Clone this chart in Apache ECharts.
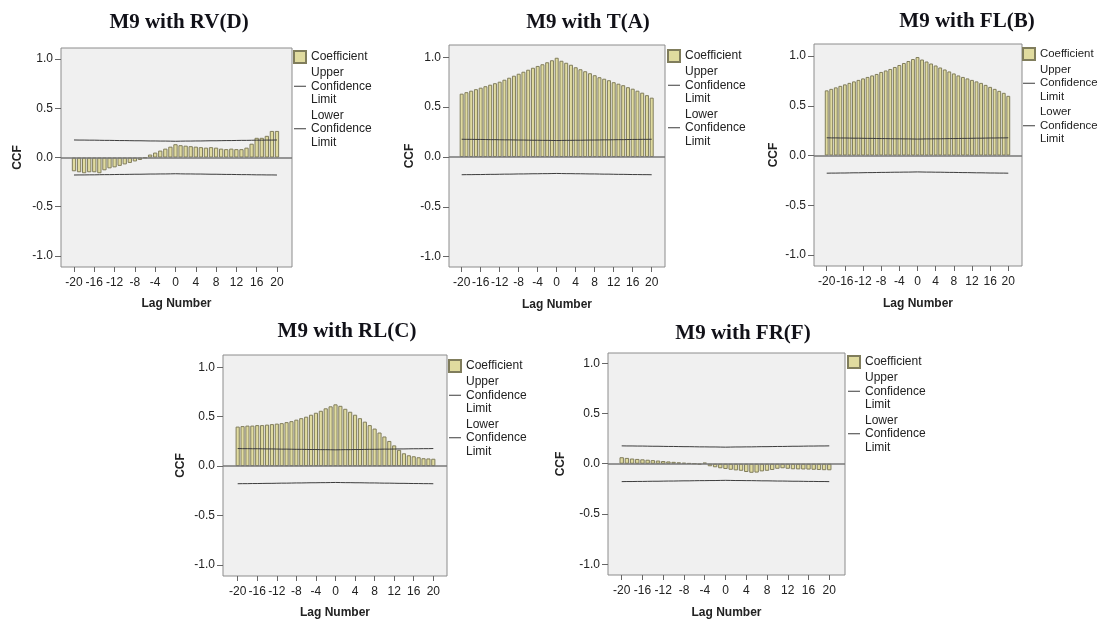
<!DOCTYPE html>
<html>
<head>
<meta charset="utf-8">
<script src="https://cdn.jsdelivr.net/npm/echarts@6/dist/echarts.min.js"></script>
<style>
  html, body { margin: 0; padding: 0; background: #ffffff; }
  #chart { width: 1100px; height: 620px; }
</style>
</head>
<body>
<div id="chart"></div>
<script>
// Lag numbers shared by every cross-correlation panel
const lags = [-20, -19, -18, -17, -16, -15, -14, -13, -12, -11, -10, -9, -8, -7, -6, -5, -4, -3, -2, -1,
              0, 1, 2, 3, 4, 5, 6, 7, 8, 9, 10, 11, 12, 13, 14, 15, 16, 17, 18, 19, 20];

// Cross-correlation coefficients of M9 with each variable, lag -20 .. 20
const rvCoef = [-0.14, -0.15, -0.16, -0.15, -0.15, -0.16, -0.13, -0.11, -0.10, -0.085, -0.07, -0.055, -0.04, -0.025, -0.005,
                0.03, 0.05, 0.07, 0.09, 0.11, 0.135, 0.125, 0.12, 0.115, 0.11, 0.105, 0.10, 0.105, 0.10, 0.09,
                0.085, 0.09, 0.085, 0.085, 0.10, 0.14, 0.20, 0.20, 0.22, 0.27, 0.27];
const tCoef  = [0.635, 0.65, 0.665, 0.68, 0.695, 0.71, 0.725, 0.74, 0.755, 0.775, 0.795, 0.815, 0.835, 0.855, 0.875,
                0.895, 0.913, 0.93, 0.95, 0.97, 0.995, 0.965, 0.945, 0.925, 0.90, 0.88, 0.86, 0.84, 0.82, 0.80,
                0.785, 0.77, 0.75, 0.735, 0.72, 0.70, 0.685, 0.665, 0.645, 0.62, 0.595];
const flCoef = [0.655, 0.67, 0.685, 0.70, 0.715, 0.73, 0.745, 0.76, 0.775, 0.79, 0.805, 0.82, 0.84, 0.855, 0.87,
                0.89, 0.91, 0.93, 0.95, 0.97, 0.99, 0.965, 0.945, 0.925, 0.905, 0.885, 0.865, 0.845, 0.825, 0.805,
                0.79, 0.775, 0.76, 0.745, 0.73, 0.71, 0.69, 0.67, 0.65, 0.63, 0.60];
const rlCoef = [0.40, 0.405, 0.41, 0.41, 0.415, 0.415, 0.42, 0.425, 0.43, 0.435, 0.445, 0.455, 0.47, 0.485, 0.50,
                0.52, 0.54, 0.56, 0.585, 0.605, 0.625, 0.61, 0.58, 0.55, 0.52, 0.485, 0.45, 0.415, 0.38, 0.34,
                0.30, 0.255, 0.21, 0.165, 0.13, 0.11, 0.10, 0.09, 0.08, 0.078, 0.075];
const frCoef = [0.065, 0.058, 0.052, 0.048, 0.044, 0.04, 0.036, 0.032, 0.027, 0.023, 0.019, 0.014, 0.01, 0.006, 0.002,
                -0.008, 0.012, -0.025, -0.035, -0.045, -0.052, -0.06, -0.066, -0.07, -0.082, -0.09, -0.088, -0.076, -0.07, -0.062,
                -0.05, -0.045, -0.05, -0.055, -0.056, -0.057, -0.058, -0.06, -0.062, -0.064, -0.065];

// Confidence limits, lag -20 .. 20
const upperLimit = [0.178, 0.177, 0.177, 0.176, 0.176, 0.175, 0.174, 0.174, 0.173, 0.172, 0.172, 0.171, 0.170, 0.170, 0.169,
                    0.168, 0.168, 0.167, 0.167, 0.166, 0.165, 0.166, 0.167, 0.167, 0.168, 0.168, 0.169, 0.170, 0.170, 0.171,
                    0.172, 0.172, 0.173, 0.174, 0.174, 0.175, 0.176, 0.176, 0.177, 0.177, 0.178];
const lowerLimit = [-0.178, -0.177, -0.177, -0.176, -0.176, -0.175, -0.174, -0.174, -0.173, -0.172, -0.172, -0.171, -0.170, -0.170, -0.169,
                    -0.168, -0.168, -0.167, -0.167, -0.166, -0.165, -0.166, -0.167, -0.167, -0.168, -0.168, -0.169, -0.170, -0.170, -0.171,
                    -0.172, -0.172, -0.173, -0.174, -0.174, -0.175, -0.176, -0.176, -0.177, -0.177, -0.178];

// Tick labels
const xTicks = [-20, -16, -12, -8, -4, 0, 4, 8, 12, 16, 20];
const yTicks = [-1, -0.5, 0, 0.5, 1];

const panelTitles = ['M9 with RV(D)', 'M9 with T(A)', 'M9 with FL(B)', 'M9 with RL(C)', 'M9 with FR(F)'];
const panelCoefs = [rvCoef, tCoef, flCoef, rlCoef, frCoef];
const legendNames = ['Coefficient', 'Upper Confidence Limit', 'Lower Confidence Limit'];

// Panel placement on the page
const layout = [
  { grid: { left: 61,  top: 48,  width: 231, height: 219 }, x: [-22.56, 22.96], y: [-1.112, 1.112], barW: 4.3,  tx: 179, ty: 12,  lx: 293,  ly: 50,  lf: 12,   yGap: 37, xGap: 31 },
  { grid: { left: 449, top: 45,  width: 216, height: 222 }, x: [-22.67, 22.80], y: [-1.103, 1.123], barW: 4.0,  tx: 588, ty: 12,  lx: 667,  ly: 49,  lf: 12,   yGap: 33, xGap: 32 },
  { grid: { left: 814, top: 44,  width: 208, height: 222 }, x: [-22.80, 23.02], y: [-1.111, 1.121], barW: 3.85, tx: 967, ty: 11,  lx: 1022, ly: 47,  lf: 11.4, yGap: 34, xGap: 32 },
  { grid: { left: 223, top: 355, width: 224, height: 221 }, x: [-23.00, 22.80], y: [-1.111, 1.124], barW: 4.15, tx: 347, ty: 321, lx: 448,  ly: 359, lf: 12,   yGap: 36, xGap: 31 },
  { grid: { left: 608, top: 353, width: 237, height: 222 }, x: [-22.64, 23.03], y: [-1.107, 1.102], barW: 4.4,  tx: 743, ty: 323, lx: 847,  ly: 355, lf: 12,   yGap: 41, xGap: 32 }
];

const barFill = '#e0db9f';
const barEdge = '#807d5c';
const limitColor = '#3c3c3c';
const textColor = '#222222';
const sans = 'Liberation Sans, Arial, sans-serif';
// legend key for the limit lines: a short horizontal stroke centred in a 12x12 box
const lineKey = 'path://M0,0L0.01,0M0,5.5L13,5.5L13,6.6L0,6.6ZM0,12L0.01,12';

const pairs = (ys) => lags.map((k, i) => [k, ys[i]]);

const option = {
  backgroundColor: '#ffffff',
  animation: false,
  title: [], grid: [], xAxis: [], yAxis: [], legend: [], series: []
};

layout.forEach((p, i) => {
  option.title.push({
    text: panelTitles[i], left: p.tx, top: p.ty, textAlign: 'center', padding: 0,
    textStyle: { fontFamily: 'Liberation Serif, Times New Roman, serif', fontWeight: 'bold', fontSize: 21, color: '#111118' }
  });
  option.grid.push(Object.assign({ show: true, backgroundColor: '#f0f0f0', borderColor: '#8c8c8c', borderWidth: 1 }, p.grid));
  option.xAxis.push({
    type: 'value', gridIndex: i, min: p.x[0], max: p.x[1],
    name: 'Lag Number', nameLocation: 'middle', nameGap: p.xGap,
    nameTextStyle: { fontFamily: sans, fontWeight: 'bold', fontSize: 12, color: textColor },
    axisLine: { show: false, onZero: false },
    axisTick: { show: true, length: 5, customValues: xTicks, lineStyle: { color: '#666' } },
    axisLabel: { customValues: xTicks, margin: 10, fontFamily: sans, fontSize: 12, color: textColor },
    splitLine: { show: false }
  });
  option.yAxis.push({
    type: 'value', gridIndex: i, min: p.y[0], max: p.y[1],
    name: 'CCF', nameLocation: 'middle', nameGap: p.yGap, nameRotate: 90,
    nameTextStyle: { fontFamily: sans, fontWeight: 'bold', fontSize: 12, color: textColor },
    axisLine: { show: false, onZero: false },
    axisTick: { show: true, length: 6, customValues: yTicks, lineStyle: { color: '#666' } },
    axisLabel: { customValues: yTicks, margin: 8, fontFamily: sans, fontSize: 12, color: textColor,
                 formatter: (v) => v.toFixed(1) },
    splitLine: { show: false }
  });
  option.legend.push({
    orient: 'vertical', left: p.lx, top: p.ly, padding: 0, itemWidth: 12, itemHeight: 12, itemGap: 2,
    data: [
      { name: legendNames[0], icon: 'rect' },
      { name: legendNames[1], icon: lineKey },
      { name: legendNames[2], icon: lineKey }
    ],
    formatter: (name) => name.split(' ').join('\n'),
    textStyle: { fontFamily: sans, fontSize: p.lf, color: textColor, lineHeight: 13.5 },
    selectedMode: false
  });
  option.series.push({
    name: legendNames[0], type: 'bar', xAxisIndex: i, yAxisIndex: i,
    data: pairs(panelCoefs[i]), barWidth: p.barW,
    itemStyle: { color: barFill, borderColor: barEdge, borderWidth: 1 },
    markLine: {
      silent: true, symbol: 'none', label: { show: false },
      lineStyle: { color: '#777777', width: 1.5, type: 'solid' },
      data: [{ yAxis: 0 }]
    }
  });
  option.series.push({
    name: legendNames[1], type: 'line', xAxisIndex: i, yAxisIndex: i,
    data: pairs(upperLimit), symbol: 'none', smooth: false,
    lineStyle: { color: limitColor, width: 1 }, itemStyle: { color: limitColor }
  });
  option.series.push({
    name: legendNames[2], type: 'line', xAxisIndex: i, yAxisIndex: i,
    data: pairs(lowerLimit), symbol: 'none', smooth: false,
    lineStyle: { color: limitColor, width: 1 }, itemStyle: { color: limitColor }
  });
});

const chart = echarts.init(document.getElementById('chart'), null, { renderer: 'canvas' });
chart.setOption(option);
</script>
</body>
</html>
